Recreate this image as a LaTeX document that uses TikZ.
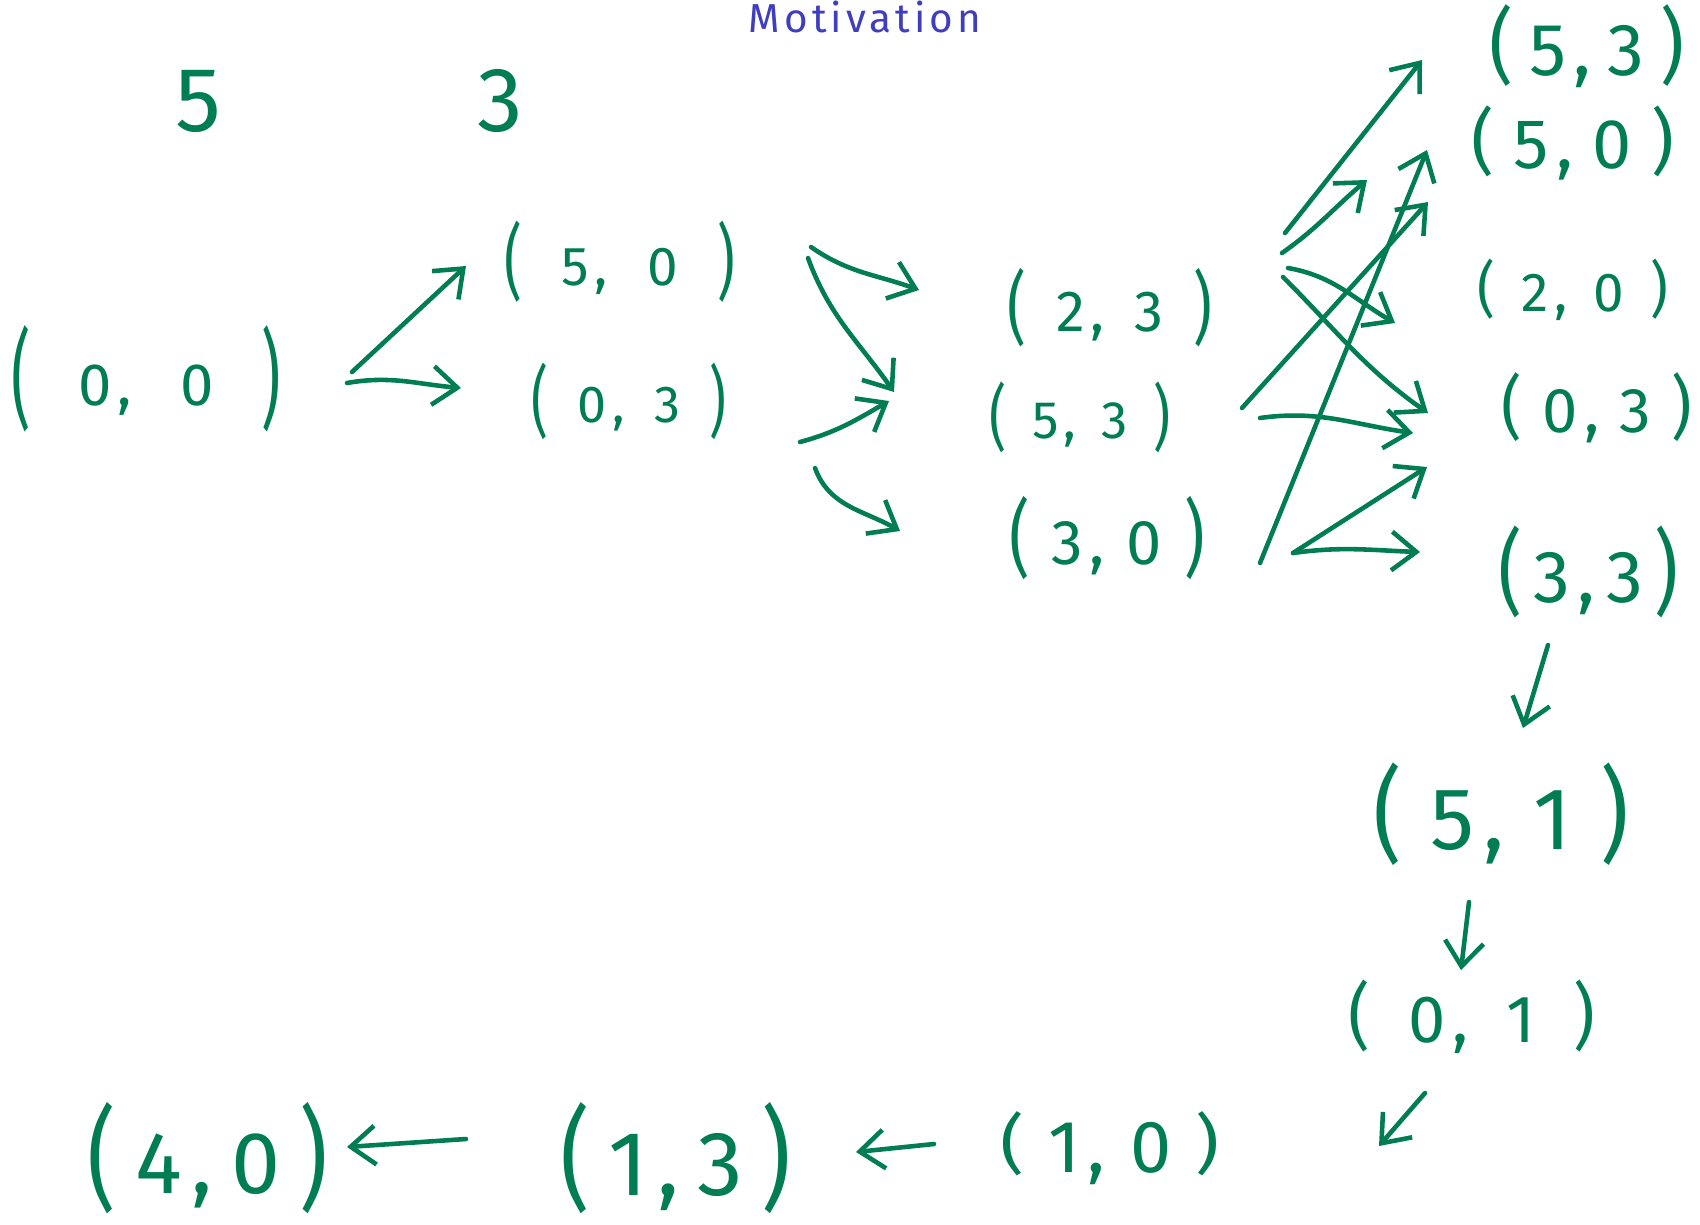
\documentclass[tikz,border=0pt]{standalone}
\usepackage{fontspec}
\setmainfont{Fira Sans}
\usetikzlibrary{arrows.meta}
\definecolor{ink}{RGB}{0,125,82}
\definecolor{titleblue}{RGB}{62,62,190}
\newlength\plen
\newcommand\hp[1]{\setlength\plen{0.3em}\setlength\plen{-\pscale\plen}\addtolength\plen{0.345em}\raisebox{\plen}{\scalebox{1}[\pscale]{#1}}}
\newcommand\hpair[2]{\hp{(}\hspace{\pgap}#1\hspace{0.1em},\hspace{\pgap}#2\hspace{\pgap}\hp{)}}
\begin{document}
\begin{tikzpicture}[x=0.01cm,y=0.01cm,
  lbl/.style n args={3}{text=ink, inner sep=0pt, font=\fontsize{#1}{#1}\selectfont\def\pscale{#2}\def\pgap{#3em}},
  num/.style={text=ink, inner sep=0pt, font=\fontsize{#1}{#1}\selectfont},
  arr/.style={draw=ink, line width=1.3pt, line cap=round, -{Straight Barb[length=7pt,width=11pt]}}]
\useasboundingbox (0,0) rectangle (1700,-1224);
% title
\node[text=titleblue, font=\fontsize{11.5}{12}\selectfont\addfontfeature{LetterSpace=10}, anchor=base, inner sep=0pt] (title) at (865,-32) {Motivation};
% labels
\node[num=26] (t5) at (198,-101) {5};
\node[num=26] (t3) at (500,-101) {3};
\node[lbl={17}{1.8}{0.8}] (a00) at (146,-379) {\hpair{0}{0}};
\node[lbl={15.6}{1.5}{0.72}] (b50) at (620,-262) {\hpair{5}{0}};
\node[lbl={14.8}{1.49}{0.57}] (b03) at (629,-401) {\hpair{0}{3}};
\node[lbl={16.5}{1.37}{0.52}] (c23) at (1110,-308) {\hpair{2}{3}};
\node[lbl={15}{1.36}{0.48}] (c53) at (1080,-417) {\hpair{5}{3}};
\node[lbl={18}{1.33}{0.35}] (c30) at (1107,-538) {\hpair{3}{0}};
\node[lbl={21}{1.12}{0.22}] (d53) at (1587,-46) {\hpair{5}{3}};
\node[lbl={20}{1.02}{0.28}] (d50) at (1573,-143) {\hpair{5}{0}};
\node[lbl={15.6}{1.11}{0.48}] (d20) at (1573,-290) {\hpair{2}{0}};
\node[lbl={18}{1.1}{0.32}] (d03) at (1597,-408) {\hpair{0}{3}};
\node[lbl={21}{1.26}{0.15}] (d33) at (1588,-572) {\hpair{3}{3}};
\node[lbl={25}{1.18}{0.33}] (e51) at (1501,-814) {\hpair{5}{1}};
\node[lbl={19}{1.09}{0.57}] (e01) at (1472,-1017) {\hpair{0}{1}};
\node[lbl={21}{0.88}{0.33}] (f10) at (1110,-1148) {\hpair{1}{0}};
\node[lbl={26}{1.23}{0.2}] (f13) at (676,-1158) {\hpair{1}{3}};
\node[lbl={25}{1.28}{0.22}] (f40) at (208,-1158) {\hpair{4}{0}};
% arrows
\draw[arr] ([shift={(206,7)}]a00.center) -- ([shift={(-154,-4)}]b50.center);
\draw[arr] ([shift={(201,-4)}]a00.center) to[out=10,in=175] ([shift={(-168,13)}]b03.center);
\draw[arr] ([shift={(191,15)}]b50.center) to[out=-35,in=160] ([shift={(-191,18)}]c23.center);
\draw[arr] ([shift={(188,4)}]b50.center) to[out=-70,in=125] ([shift={(-186,25)}]c53.center);
\draw[arr] ([shift={(171,-41)}]b03.center) to[out=15,in=210] ([shift={(-191,16)}]c53.center);
\draw[arr] ([shift={(186,-67)}]b03.center) to[out=-70,in=150] ([shift={(-207,7)}]c30.center);
\draw[arr] ([shift={(175,75)}]c23.center) -- ([shift={(-165,-14)}]d53.center);
\draw[arr] ([shift={(172,55)}]c23.center) to[out=35,in=220] ([shift={(-206,-37)}]d50.center);
\draw[arr] ([shift={(178,40)}]c23.center) to[out=-10,in=150] ([shift={(-178,-33)}]d20.center);
\draw[arr] ([shift={(173,31)}]c23.center) to[out=-45,in=145] ([shift={(-169,-5)}]d03.center);
\draw[arr] ([shift={(162,9)}]c53.center) -- ([shift={(-145,-59)}]d50.center);
\draw[arr] ([shift={(180,-1)}]c53.center) to[out=8,in=172] ([shift={(-184,-25)}]d03.center);
\draw[arr] ([shift={(153,-25)}]c30.center) -- ([shift={(-146,-7)}]d50.center);
\draw[arr] ([shift={(186,-15)}]c30.center) -- ([shift={(-170,-59)}]d03.center);
\draw[arr] ([shift={(186,-15)}]c30.center) to[out=8,in=178] ([shift={(-168,20)}]d33.center);
\draw[arr] ([shift={(-40,-73)}]d33.center) -- ([shift={(22,86)}]e51.center);
\draw[arr] ([shift={(-32,-88)}]e51.center) -- ([shift={(-11,47)}]e01.center);
\draw[arr] ([shift={(-47,-76)}]e01.center) -- ([shift={(269,2)}]f10.center);
\draw[arr] ([shift={(-176,4)}]f10.center) -- ([shift={(180,6)}]f13.center);
\draw[arr] ([shift={(-210,19)}]f13.center) -- ([shift={(139,11)}]f40.center);
\end{tikzpicture}
\end{document}
